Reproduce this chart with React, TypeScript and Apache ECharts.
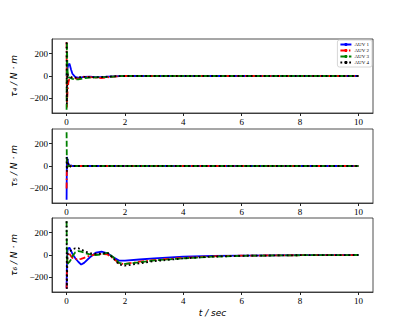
import React, { useEffect, useRef } from "react";
import * as echarts from "echarts";

const T = [0, 0.01, 0.03, 0.06, 0.1, 0.15, 0.2, 0.3, 0.4, 0.5, 0.6, 0.8, 1.0, 1.2, 1.4, 1.6, 1.8, 2.0, 2.5, 3, 4, 5, 6, 8, 10];

const names = ["AUV 1", "AUV 2", "AUV 3", "AUV 4"];

// tau4
const tau4Auv1 = [0, 30, 70, 100, 110, 60, 20, -10, -15, -12, -8, -6, -10, -10, -6, -3, -1, 0, 0, 0, 0, 0, 0, 0, 0];
const tau4Auv2 = [300, -280, -150, -60, -20, -15, -10, -20, -25, -15, -5, -10, -15, -18, -12, -6, -2, 0, 0, 0, 0, 0, 0, 0, 0];
const tau4Auv3 = [-300, 300, 50, -10, -15, -20, -25, -30, -30, -25, -20, -15, -12, -10, -8, -5, -2, 0, 0, 0, 0, 0, 0, 0, 0];
const tau4Auv4 = [300, -250, 20, 0, -5, -10, -15, -15, -12, -10, -8, -10, -12, -10, -6, -3, -1, 0, 0, 0, 0, 0, 0, 0, 0];

// tau5
const tau5Auv1 = [-300, 80, 60, 20, 0, 5, 0, 0, 0, 0, 0, 0, 0, 0, 0, 0, 0, 0, 0, 0, 0, 0, 0, 0, 0];
const tau5Auv2 = [-200, 50, -20, 10, 0, 0, 0, 0, 0, 0, 0, 0, 0, 0, 0, 0, 0, 0, 0, 0, 0, 0, 0, 0, 0];
const tau5Auv3 = [300, 0, -10, 5, 0, 0, 0, 0, 0, 0, 0, 0, 0, 0, 0, 0, 0, 0, 0, 0, 0, 0, 0, 0, 0];
const tau5Auv4 = [80, -50, 60, 20, -10, 0, 0, 0, 0, 0, 0, 0, 0, 0, 0, 0, 0, 0, 0, 0, 0, 0, 0, 0, 0];

// tau6
const tau6Auv1 = [-300, -100, 40, 60, 65, 40, 10, -30, -60, -85, -70, -20, 20, 30, 15, -20, -50, -50, -40, -30, -15, -8, -5, -2, 0];
const tau6Auv2 = [-300, -150, 0, 20, 10, -10, -25, -35, -40, -35, -25, -5, 5, 10, 5, -30, -75, -80, -60, -45, -25, -12, -6, -2, 0];
const tau6Auv3 = [300, 0, -80, -70, -60, -40, -10, 25, 35, 30, 20, 5, 0, 5, 20, -20, -70, -80, -65, -48, -30, -15, -7, -2, 0];
const tau6Auv4 = [300, -300, 0, 20, 30, 40, 50, 60, 60, 50, 35, 15, 10, 12, 22, -30, -85, -95, -75, -55, -30, -15, -7, -2, 0];

const xTicks = [0, 2, 4, 6, 8, 10];
const yTicks = [-200, 0, 200];
const yLabels = ["τ₄ / N · m", "τ₅ / N · m", "τ₆ / N · m"];

const panels = [
  [tau4Auv1, tau4Auv2, tau4Auv3, tau4Auv4],
  [tau5Auv1, tau5Auv2, tau5Auv3, tau5Auv4],
  [tau6Auv1, tau6Auv2, tau6Auv3, tau6Auv4],
];

const colors = ["#0000ff", "#ff0000", "#008000", "#000000"];
const dashes: any[] = ["solid", [6, 2.5, 1.5, 2.5], [6, 2.5], [1.8, 2.6]];

const serif = "Liberation Serif";

export default function App() {
  const ref = useRef<HTMLDivElement>(null);
  useEffect(() => {
    if (!ref.current) return;
    const chart = echarts.init(ref.current, null, { renderer: "svg" });
    const tops = [39, 129, 218];
    const grids = tops.map((top) => ({
      left: 52,
      right: 42,
      top,
      height: 74,
      show: true,
      borderColor: "#222",
      borderWidth: 0.8,
      backgroundColor: "transparent",
    }));
    const xAxes = tops.map((_, i) => ({
      type: "value",
      gridIndex: i,
      min: -0.5,
      max: 10.5,
      axisLine: { show: true, onZero: false, lineStyle: { color: "#222", width: 0.8 } },
      axisTick: { show: true, length: 3, customValues: xTicks, lineStyle: { color: "#222" } },
      axisLabel: {
        show: true,
        customValues: xTicks,
        fontFamily: serif,
        fontSize: 9,
        color: "#000",
        margin: 4,
      },
      splitLine: { show: false },
      name: i === 2 ? "t / sec" : "",
      nameLocation: "middle",
      nameGap: 16,
      nameTextStyle: { fontFamily: "DejaVu Sans", fontStyle: "italic", fontSize: 9, color: "#000" },
    }));
    const yAxes = tops.map((_, i) => ({
      type: "value",
      gridIndex: i,
      min: -330,
      max: 330,
      axisLine: { show: true, onZero: false, lineStyle: { color: "#222", width: 0.8 } },
      axisTick: { show: true, length: 3, customValues: yTicks, lineStyle: { color: "#222" } },
      axisLabel: {
        show: true,
        customValues: yTicks,
        fontFamily: serif,
        fontSize: 9,
        color: "#000",
        margin: 4,
        formatter: (v: number) => (v < 0 ? "\u2212" + Math.abs(v) : String(v)),
      },
      splitLine: { show: false },
      name: yLabels[i],
      nameLocation: "middle",
      nameGap: 28,
      nameRotate: 90,
      nameTextStyle: { fontFamily: "DejaVu Sans", fontStyle: "italic", fontSize: 9, color: "#000" },
    }));
    const series: any[] = [];
    panels.forEach((p, pi) => {
      p.forEach((vals, si) => {
        series.push({
          type: "line",
          name: names[si],
          xAxisIndex: pi,
          yAxisIndex: pi,
          data: T.map((t, k) => [t, vals[k]]),
          showSymbol: false,
          symbol: "none",
          lineStyle: { color: colors[si], width: 1.8, type: dashes[si] },
          itemStyle: { color: colors[si] },
          z: 2 + si,
        });
      });
    });
    chart.setOption({
      animation: false,
      backgroundColor: "#fff",
      grid: grids,
      xAxis: xAxes,
      yAxis: yAxes,
      legend: {
        data: names,
        orient: "vertical",
        right: 43,
        top: 40,
        itemWidth: 11,
        itemHeight: 4,
        itemGap: 1,
        padding: [2, 3, 2, 2],
        borderColor: "#ccc",
        borderWidth: 0.8,
        borderRadius: 2,
        backgroundColor: "rgba(255,255,255,0.8)",
        textStyle: { fontFamily: serif, fontSize: 5, color: "#000", padding: [0, 0, 0, -2] },
      },
      series,
    });
    return () => chart.dispose();
  }, []);
  return (
    <div
      ref={ref}
      style={{ position: "fixed", left: 0, top: 0, width: 415, height: 329, background: "#fff" }}
    />
  );
}
